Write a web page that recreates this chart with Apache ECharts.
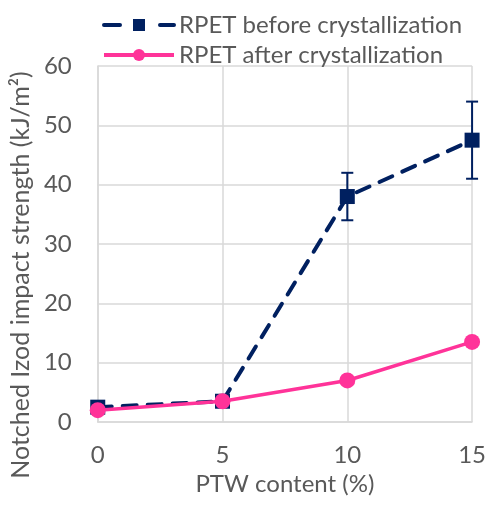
<!DOCTYPE html>
<html><head><meta charset="utf-8">
<script src="https://cdn.jsdelivr.net/npm/echarts@6/dist/echarts.min.js"></script>
<style>html,body{margin:0;padding:0;background:#fff}#c{width:489px;height:508px}</style>
</head><body><div id="c"></div>
<script>
const ptw = [0, 5, 10, 15];
const beforeVals = [2.5, 3.5, 38, 47.5];
const beforeLow = [null, null, 34, 41];
const beforeHigh = [null, null, 42, 54];
const afterVals = [2, 3.5, 7, 13.5];
const yTicks = {min: 0, max: 60, interval: 10};
const xTicks = {min: 0, max: 15, interval: 5};

const FONT = 'Lato';
const TXT = '#595959';
const NAVY = '#002060';
const PINK = '#ff3399';

const errData = ptw.map((x, i) => [x, beforeLow[i], beforeHigh[i]]).filter(d => d[1] != null);

const chart = echarts.init(document.getElementById('c'));
chart.setOption({
  animation: false,
  textStyle: {fontFamily: FONT},
  grid: {left: 96, right: 13, top: 66, bottom: 86},
  legend: {
    orient: 'vertical', left: 97, top: 8, itemGap: 6,
    itemWidth: 70, itemHeight: 15,
    textStyle: {fontFamily: FONT, fontSize: 24, color: TXT},
    data: [
      {name: 'RPET before crystallization', lineStyle: {type: [16, 40], width: 4}},
      {name: 'RPET after crystallization', lineStyle: {width: 4}}
    ]
  },
  xAxis: {
    type: 'value', min: xTicks.min, max: xTicks.max, interval: xTicks.interval,
    name: 'PTW content (%)', nameLocation: 'middle', nameGap: 45,
    nameTextStyle: {fontFamily: FONT, fontSize: 24, color: TXT},
    axisLine: {show: true, lineStyle: {color: '#d9d9d9', width: 1.5}},
    axisTick: {show: false},
    axisLabel: {fontFamily: FONT, fontSize: 24, color: TXT, margin: 21},
    splitLine: {show: true, lineStyle: {color: '#d9d9d9', width: 1.5}}
  },
  yAxis: {
    type: 'value', min: yTicks.min, max: yTicks.max, interval: yTicks.interval,
    name: 'Notched Izod impact strength (kJ/m²)', nameLocation: 'middle', nameGap: 62,
    nameTextStyle: {fontFamily: FONT, fontSize: 25, color: TXT, padding: [0, 62, 0, 0]},
    axisLine: {show: true, lineStyle: {color: '#d9d9d9', width: 1.5}},
    axisTick: {show: false},
    axisLabel: {fontFamily: FONT, fontSize: 24, color: TXT, margin: 26},
    splitLine: {show: true, lineStyle: {color: '#d9d9d9', width: 1.5}}
  },
  series: [
    {
      type: 'custom', name: 'err', silent: true, z: 2,
      data: errData,
      renderItem: function (params, api) {
        const x = api.value(0);
        const lo = api.coord([x, api.value(1)]);
        const hi = api.coord([x, api.value(2)]);
        const hw = 6;
        const st = {stroke: NAVY, lineWidth: 2};
        return {type: 'group', children: [
          {type: 'line', shape: {x1: lo[0], y1: lo[1], x2: hi[0], y2: hi[1]}, style: st},
          {type: 'line', shape: {x1: lo[0] - hw, y1: lo[1], x2: lo[0] + hw, y2: lo[1]}, style: st},
          {type: 'line', shape: {x1: hi[0] - hw, y1: hi[1], x2: hi[0] + hw, y2: hi[1]}, style: st}
        ]};
      }
    },
    {
      type: 'line', name: 'RPET before crystallization', z: 3,
      data: ptw.map((x, i) => [x, beforeVals[i]]),
      symbol: 'rect', symbolSize: 15,
      itemStyle: {color: NAVY},
      lineStyle: {color: NAVY, width: 4, type: [14, 11], cap: 'round'}
    },
    {
      type: 'line', name: 'RPET after crystallization', z: 4,
      data: ptw.map((x, i) => [x, afterVals[i]]),
      symbol: 'circle', symbolSize: 16,
      itemStyle: {color: PINK},
      lineStyle: {color: PINK, width: 3.5}
    }
  ]
});
</script></body></html>
